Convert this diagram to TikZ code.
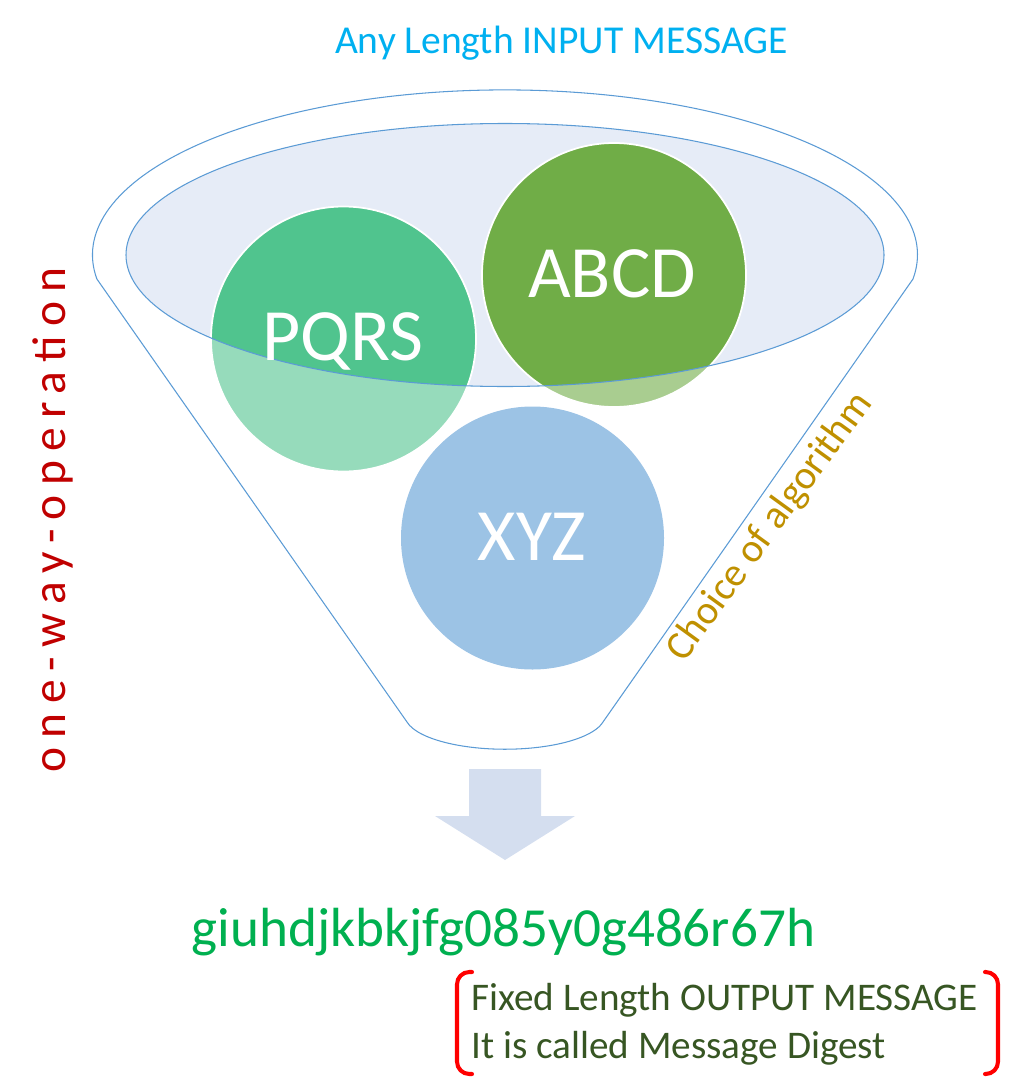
\documentclass[tikz,border=0pt]{standalone}
\usepackage{fontspec}
\setmainfont{Carlito}
\newfontfamily\spacedfont[LetterSpace=19.5]{Carlito}
\definecolor{funnelline}{HTML}{5B9BD5}
\definecolor{funnelfill}{HTML}{E6ECF7}
\definecolor{pqrsgreen}{HTML}{50C48E}
\definecolor{abcdgreen}{HTML}{70AD47}
\definecolor{xyzblue}{HTML}{5B9BD5}
\definecolor{arrowfill}{HTML}{D4DEEF}
\definecolor{inputblue}{HTML}{00B0F0}
\definecolor{hashgreen}{HTML}{00B050}
\definecolor{notegreen}{HTML}{375623}
\definecolor{onewayred}{HTML}{C00000}
\definecolor{choicegold}{HTML}{BF9000}
\begin{document}
\begin{tikzpicture}[x=0.02cm,y=-0.02cm,
  outline/.style={draw=funnelline,line width=0.6pt},
  bubble/.style={draw=white,line width=1pt},
  bubbletext/.style={text=white,inner sep=0pt,anchor=base,font=\fontsize{42}{50}\selectfont},
  bracketline/.style={draw=red,line width=2.3pt,line cap=round,rounded corners=7pt},
  notetext/.style={text=notegreen,inner sep=0pt,anchor=base west,font=\fontsize{22.3}{27}\selectfont}]
\useasboundingbox (0,0) rectangle (1024,1088);
% inner ellipse fill
\fill[funnelfill] (505,255) ellipse [x radius=379, y radius=131.5];
% circles
\fill[pqrsgreen] (343.5,339) circle [radius=132.5];
\draw[bubble] (343.5,339) circle [radius=132.5];
\fill[abcdgreen] (614,275) circle [radius=132];
\draw[bubble] (614,275) circle [radius=132];
\fill[xyzblue] (532.5,538) circle [radius=131.5];
% white veil of the funnel body (outside the inner ellipse)
\fill[white,fill opacity=0.4,even odd rule]
  (913,279) arc [start angle=8.4, end angle=-188.4, x radius=412.5, y radius=165]
  -- (407,722) arc [start angle=168.5, end angle=11.5, x radius=100, y radius=34] -- cycle
  (505,255) ellipse [x radius=379, y radius=131.5];
% outlines
\draw[outline]
  (913,279) arc [start angle=8.4, end angle=-188.4, x radius=412.5, y radius=165]
  -- (407,722) arc [start angle=168.5, end angle=11.5, x radius=100, y radius=34] -- cycle;
\draw[outline] (505,255) ellipse [x radius=379, y radius=131.5];
% circle labels
\node[bubbletext] (pqrs) at (343,360) {PQRS};
\node[bubbletext] (abcd) at (612,297) {ABCD};
\node[bubbletext] (xyz) at (532,560) {XYZ};
% title
\node[text=inputblue,inner sep=0pt,anchor=base,font=\fontsize{22.5}{27}\selectfont] (input) at (561.5,54) {Any Length INPUT MESSAGE};
% arrow
\fill[arrowfill] (469,769) -- (541,769) -- (541,816) -- (575,816) -- (505,860) -- (435,816) -- (469,816) -- cycle;
% hash
\node[text=hashgreen,inner sep=0pt,anchor=base,font=\fontsize{31.4}{37}\selectfont] (hash) at (503.5,946) {giuhdjkbkjfg085y0g486r67h};
% note with brackets
\draw[bracketline] (472,972) -- (457,972) -- (457,1074) -- (472,1074);
\draw[bracketline] (985,972) -- (998,972) -- (998,1074) -- (985,1074);
\node[notetext] (note1) at (471,1010) {Fixed Length OUTPUT MESSAGE};
\node[notetext] (note2) at (471,1058) {It is called Message Digest};
% side labels
\node[text=onewayred,inner sep=0pt,rotate=90,font=\spacedfont\fontsize{27}{32}\selectfont] (oneway) at (53,520) {one-way-operation};
\node[text=choicegold,inner sep=0pt,rotate=54,font=\fontsize{23}{28}\selectfont] (choice) at (770,527) {Choice of algorithm};
\end{tikzpicture}
\end{document}
